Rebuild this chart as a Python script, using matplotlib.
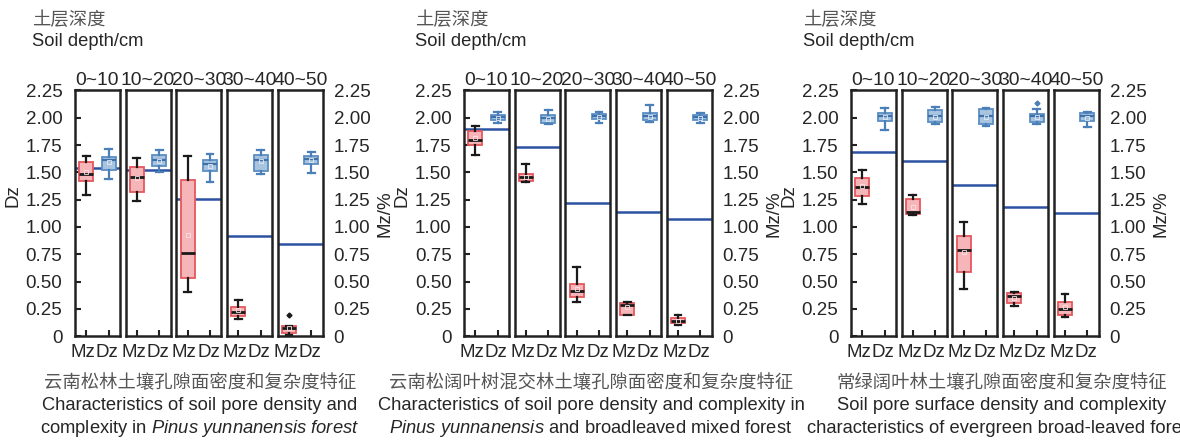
import matplotlib.pyplot as plt
from matplotlib.transforms import ScaledTranslation

plt.rcParams['font.family'] = ['Liberation Sans', 'Noto Sans CJK SC']
plt.rcParams['mathtext.fontset'] = 'custom'
plt.rcParams['mathtext.rm'] = 'Liberation Sans'
plt.rcParams['mathtext.it'] = 'Liberation Sans:italic'

depths = ['0~10', '10~20', '20~30', '30~40', '40~50']
yticks = [0, 0.25, 0.5, 0.75, 1.0, 1.25, 1.5, 1.75, 2.0, 2.25]
ytick_labels = ['0', '0.25', '0.50', '0.75', '1.00', '1.25', '1.50', '1.75', '2.00', '2.25']

# box stats per layer: [whislo, q1, med, q3, whishi, mean]
mz_py = [[1.29, 1.42, 1.48, 1.59, 1.65, 1.50],
         [1.24, 1.32, 1.46, 1.55, 1.63, 1.45],
         [0.40, 0.53, 0.76, 1.43, 1.65, 0.93],
         [0.155, 0.186, 0.223, 0.268, 0.329, 0.24],
         [0.012, 0.03, 0.073, 0.091, 0.091, 0.07]]
dz_py = [[1.44, 1.52, 1.61, 1.64, 1.71, 1.59],
         [1.50, 1.56, 1.61, 1.66, 1.70, 1.60],
         [1.415, 1.51, 1.58, 1.61, 1.67, 1.56],
         [1.48, 1.515, 1.61, 1.66, 1.70, 1.60],
         [1.49, 1.58, 1.62, 1.65, 1.69, 1.61]]
line_py = [1.537, 1.524, 1.253, 0.915, 0.841]

mz_mix = [[1.66, 1.75, 1.80, 1.88, 1.92, 1.81],
          [1.415, 1.424, 1.454, 1.485, 1.58, 1.46],
          [0.31, 0.36, 0.41, 0.48, 0.63, 0.43],
          [0.19, 0.195, 0.284, 0.302, 0.311, 0.27],
          [0.098, 0.116, 0.14, 0.165, 0.192, 0.14]]
dz_mix = [[1.954, 1.976, 2.003, 2.024, 2.049, 2.00],
          [1.945, 1.951, 1.994, 2.021, 2.067, 1.99],
          [1.954, 1.988, 2.012, 2.037, 2.055, 2.01],
          [1.963, 1.976, 2.018, 2.04, 2.116, 2.01],
          [1.948, 1.982, 2.003, 2.024, 2.043, 2.00]]
line_mix = [1.899, 1.735, 1.223, 1.14, 1.07]

mz_ebl = [[1.213, 1.28, 1.363, 1.448, 1.518, 1.37],
          [1.113, 1.116, 1.14, 1.256, 1.296, 1.18],
          [0.427, 0.591, 0.784, 0.915, 1.049, 0.77],
          [0.277, 0.302, 0.366, 0.393, 0.405, 0.35],
          [0.174, 0.189, 0.247, 0.311, 0.384, 0.265]]
dz_ebl = [[1.89, 1.973, 2.012, 2.043, 2.085, 2.01],
          [1.939, 1.963, 2.012, 2.07, 2.095, 2.01],
          [1.927, 1.939, 2.012, 2.076, 2.085, 2.01],
          [1.945, 1.963, 2.012, 2.034, 2.076, 2.01],
          [1.918, 1.97, 2.012, 2.043, 2.055, 2.00]]
line_ebl = [1.683, 1.601, 1.387, 1.18, 1.125]

# outliers keyed by (panel, layer)
mz_fliers = {(0, 4): [0.195]}
dz_fliers = {(2, 3): [2.131]}

captions = [
    ['云南松林土壤孔隙面密度和复杂度特征',
     'Characteristics of soil pore density and',
     r'complexity in $\mathit{Pinus\ yunnanensis\ forest}$'],
    ['云南松阔叶树混交林土壤孔隙面密度和复杂度特征',
     'Characteristics of soil pore density and complexity in',
     r'$\mathit{Pinus\ yunnanensis}$ and broadleaved mixed forest'],
    ['常绿阔叶林土壤孔隙面密度和复杂度特征',
     'Soil pore surface density and complexity',
     'characteristics of evergreen broad-leaved forest'],
]

panels = [(mz_py, dz_py, line_py), (mz_mix, dz_mix, line_mix), (mz_ebl, dz_ebl, line_ebl)]

W, H = 1180, 440
TOP, BOT = 90.4, 336.1
panel_left = [75, 464, 851]
title_x = [32, 415, 803]
cap_x = [200, 591, 1002]
STEP, AW = 50.7, 44.8
TXT = '#262626'
FS = 13.5

RED_FACE, RED_EDGE = '#f5b5b9', '#e5585d'
BLUE_FACE, BLUE_EDGE = '#a8c4df', '#5a8ec4'
BLUE_LINE = '#2c52a2'


def stats(row, fl):
    lo, q1, med, q3, hi, mean = row
    return dict(whislo=lo, q1=q1, med=med, q3=q3, whishi=hi, mean=mean, fliers=fl)


fig = plt.figure(figsize=(11.8, 4.4), dpi=100)

for p, (mz, dz, hl) in enumerate(panels):
    for i in range(5):
        x0 = panel_left[p] + i * STEP
        ax = fig.add_axes([x0 / W, (H - BOT) / H, AW / W, (BOT - TOP) / H])
        ax.axhline(hl[i], color=BLUE_LINE, lw=1.8, zorder=0.5)

        ax.bxp([stats(mz[i], mz_fliers.get((p, i), []))], positions=[1], widths=0.62,
               patch_artist=True, showmeans=True,
               boxprops=dict(facecolor=RED_FACE, edgecolor=RED_EDGE, lw=1.3),
               medianprops=dict(color='#1a1a1a', lw=2),
               whiskerprops=dict(color='#1a1a1a', lw=1.6),
               capprops=dict(color='#1a1a1a', lw=1.6),
               meanprops=dict(marker='s', markersize=2.5, markerfacecolor='none',
                              markeredgecolor='#fbe3e4', markeredgewidth=0.6),
               flierprops=dict(marker='D', markersize=2.5, markerfacecolor='#1a1a1a',
                               markeredgecolor='#1a1a1a'))
        ax.bxp([stats(dz[i], dz_fliers.get((p, i), []))], positions=[2], widths=0.62,
               patch_artist=True, showmeans=True,
               boxprops=dict(facecolor=BLUE_FACE, edgecolor=BLUE_EDGE, lw=1.3),
               medianprops=dict(color='#3f70aa', lw=1.6),
               whiskerprops=dict(color='#4a7fb8', lw=1.6),
               capprops=dict(color='#4a7fb8', lw=1.6),
               meanprops=dict(marker='s', markersize=2.5, markerfacecolor='none',
                              markeredgecolor='#e2ecf6', markeredgewidth=0.6),
               flierprops=dict(marker='D', markersize=2.5, markerfacecolor='#4a7fb8',
                               markeredgecolor='#4a7fb8'))

        ax.set_xlim(0.5, 2.5)
        ax.set_ylim(0, 2.25)
        ax.set_xticks([1, 2])
        ax.set_xticklabels(['Mz', 'Dz'])
        ax.tick_params(axis='x', direction='in', length=4, width=1.5, color='#222222',
                       labelsize=FS, labelcolor=TXT, pad=6)
        # labels sit a little left of the ticks in the original
        for lab, dx in zip(ax.get_xticklabels(), [-3.5, -1.5]):
            lab.set_transform(lab.get_transform() + ScaledTranslation(dx / 100, 0, fig.dpi_scale_trans))
        for s in ax.spines.values():
            s.set_linewidth(1.8)
            s.set_color('#222222')
        ax.set_title(depths[i], fontsize=13.9, color=TXT, pad=4)

        ax.set_yticks(yticks)
        if i == 0:
            ax.set_yticklabels(ytick_labels)
            ax.tick_params(axis='y', direction='in', length=4, width=1.5, color='#222222',
                           labelsize=FS, labelcolor=TXT, pad=9)
            ax.set_ylabel('Dz', fontsize=FS, color=TXT)
            ax.yaxis.set_label_coords(-1.2, 0.57)
        elif i == 4:
            ax.yaxis.tick_right()
            ax.set_yticklabels(ytick_labels)
            ax.tick_params(axis='y', length=0, labelsize=FS, labelcolor=TXT, pad=8)
            ax.yaxis.set_label_position('right')
            ax.set_ylabel('Mz/%', fontsize=FS, color=TXT)
            ax.yaxis.set_label_coords(2.2, 0.5)
        else:
            ax.tick_params(axis='y', length=0, labelleft=False)

    fig.text(title_x[p] / W, 1 - 20 / H, '土层深度', fontsize=13.2, color='#555555', va='center')
    fig.text(title_x[p] / W, 1 - 42 / H, 'Soil depth/cm', fontsize=13.2, color=TXT, va='center')
    fig.text(cap_x[p] / W, 1 - 383 / H, captions[p][0], fontsize=13.2, color='#555555',
             ha='center', va='center')
    fig.text(cap_x[p] / W, 1 - 405 / H, captions[p][1], fontsize=13.2, color=TXT,
             ha='center', va='center')
    fig.text(cap_x[p] / W, 1 - 428 / H, captions[p][2], fontsize=13.2, color=TXT,
             ha='center', va='center')

fig.savefig('out.png', dpi=100)
